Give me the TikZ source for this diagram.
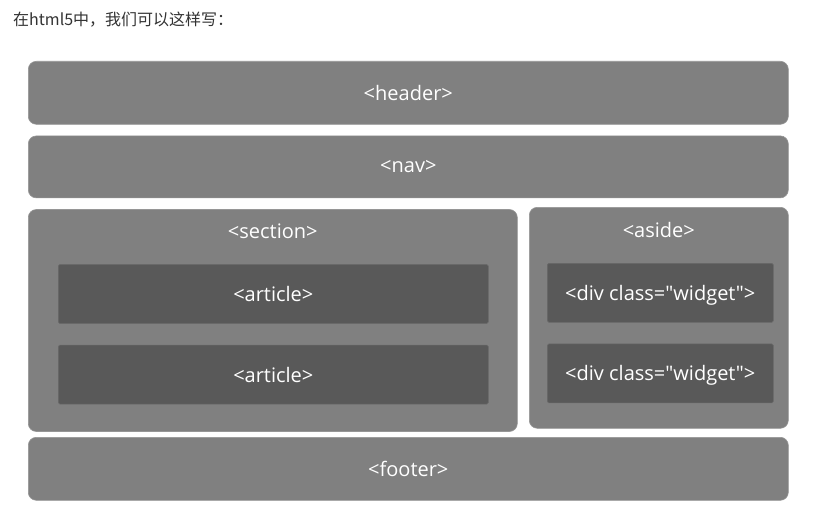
\documentclass[tikz,border=0pt]{standalone}
\usepackage{fontspec}
\newfontfamily\boxfont{Open Sans}
\newfontfamily\cjkfont{Noto Sans CJK SC}
\usetikzlibrary{calc,positioning}
\definecolor{boxgray}{RGB}{128,128,128}
\definecolor{boxedge}{RGB}{150,150,150}
\definecolor{innergray}{RGB}{89,89,89}
\definecolor{inneredge}{RGB}{105,105,105}
\definecolor{captiongray}{RGB}{51,51,51}
\tikzset{
outer_box/.style={rectangle, rounded corners=8pt, draw=boxedge, line width=0.6pt, fill=boxgray, text=white, anchor=north west, inner sep=0pt, font=\boxfont\fontsize{20}{24}\selectfont},
inner_box/.style={rectangle, rounded corners=1.5pt, draw=inneredge, line width=0.6pt, fill=innergray, text=white, anchor=north west, inner sep=0pt, text height=15pt, text depth=0pt, font=\boxfont\fontsize{20}{24}\selectfont},
box_title/.style={text=white, inner sep=0pt, anchor=center, font=\boxfont\fontsize{20}{24}\selectfont},
caption_text/.style={text=captiongray, anchor=west, inner sep=0pt, font=\cjkfont\fontsize{16}{19}\selectfont}
}

\begin{document}
\begin{tikzpicture}[x=1pt,y=-1pt]
    \useasboundingbox[fill=white] (0,0) rectangle (840,516);
    \node[caption_text] (caption) at (13,20) {在html5中，我们可以这样写：};
    % page rows
    \node[outer_box, minimum width=760pt, minimum height=63pt] (header) at (28,61) {<header>};
    \node[outer_box, minimum width=760pt, minimum height=62pt] (nav) [below=11pt of header.south west, anchor=north west] {<nav>};
    \node[outer_box, minimum width=489pt, minimum height=222pt] (section) [below=11pt of nav.south west, anchor=north west] {};
    \node[outer_box, minimum width=259pt, minimum height=221pt] (aside) at (529,207) {};
    \node[outer_box, minimum width=760pt, minimum height=63pt] (footer) at (28,437) {<footer>};
    % titles
    \node[box_title] (section_title) at ($(section.north)+(0,22)$) {<section>};
    \node[box_title] (aside_title) at ($(aside.north)+(0,23)$) {<aside>};
    % contents
    \node[inner_box, minimum width=430pt, minimum height=59pt] (article_1) at ($(section.north west)+(30,55)$) {<article>};
    \node[inner_box, minimum width=430pt, minimum height=59pt] (article_2) [below=21pt of article_1.south west, anchor=north west] {<article>};
    \node[inner_box, minimum width=226pt, minimum height=59pt] (widget_1) at ($(aside.north west)+(18,56)$) {<div class="widget">};
    \node[inner_box, minimum width=226pt, minimum height=59pt] (widget_2) [below=21pt of widget_1.south west, anchor=north west] {<div class="widget">};
\end{tikzpicture}
\end{document}
